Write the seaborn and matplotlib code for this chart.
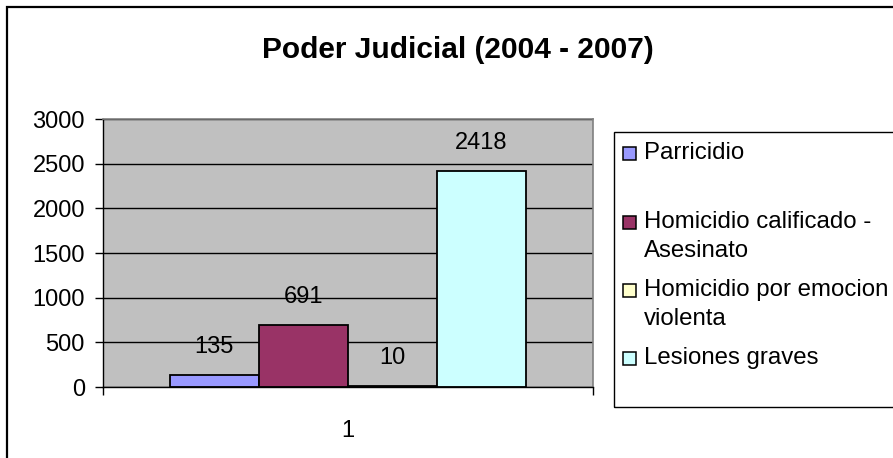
import matplotlib
matplotlib.use("Agg")
import matplotlib.pyplot as plt
import matplotlib.patches as mpatches
import numpy as np
import pandas as pd
import seaborn as sns

categories = ["Parricidio", "Homicidio calificado - Asesinato",
              "Homicidio por emocion violenta", "Lesiones graves"]
legend_lines = [["Parricidio"], ["Homicidio calificado -", "Asesinato"],
                ["Homicidio por emocion", "violenta"], ["Lesiones graves"]]
values = [135, 691, 10, 2418]
group = ["1", "1", "1", "1"]
colors = ["#9999FF", "#993366", "#FFFFCC", "#CCFFFF"]
yticks = [0, 500, 1000, 1500, 2000, 2500, 3000]

W, H = 893, 458


def fx(px):
    return px / W


def fy(py):
    return 1 - py / H


sns.set_style("white")
plt.rcParams["font.family"] = ["Liberation Sans", "DejaVu Sans"]
plt.rcParams["text.color"] = "black"
plt.rcParams["xtick.color"] = "black"
plt.rcParams["ytick.color"] = "black"

data = pd.DataFrame({"grupo": group, "delito": categories, "valor": values})

fig = plt.figure(figsize=(W / 100, H / 100), dpi=100)
ax = fig.add_axes([fx(103), fy(387), fx(593) - fx(103), fy(119) - fy(387)])
ax.set_facecolor("#C0C0C0")

sns.barplot(data=data, x="grupo", y="valor", hue="delito", hue_order=categories,
            palette=colors, width=0.727, edgecolor="black", linewidth=1.3,
            saturation=1, legend=False, ax=ax)

ax.set_xlim(-0.5, 0.5)
ax.set_ylim(0, 3000)
ax.set_yticks(yticks)
ax.yaxis.grid(True, color="black", linewidth=1)
ax.set_axisbelow(True)
ax.set_xlabel("")
ax.set_ylabel("")

for s in ["top", "right"]:
    ax.spines[s].set_color("#808080")
    ax.spines[s].set_linewidth(1.2)
for s in ["left", "bottom"]:
    ax.spines[s].set_color("black")
    ax.spines[s].set_linewidth(1)

ax.tick_params(axis="y", direction="out", length=6, width=1, color="black",
               labelsize=17, pad=7, left=True, labelcolor="black")
ax.tick_params(axis="x", which="major", length=0, labelsize=17, pad=24,
               labelcolor="black")
ax.set_xticks([-0.5, 0.5], minor=True)
ax.tick_params(axis="x", which="minor", direction="out", length=6, width=1,
               color="black", bottom=True)

for cont in ax.containers:
    for bar, v in zip(cont, cont.datavalues):
        ax.annotate(f"{int(v)}", (bar.get_x() + bar.get_width() / 2, bar.get_height()),
                    xytext=(0, 20), textcoords="offset points",
                    ha="center", va="center", fontsize=17, color="black")

fig.text(fx(458), fy(50), "Poder Judicial (2004 - 2007)", ha="center", va="center",
         fontsize=21.5, fontweight="bold", color="black")

# outer chart frame
fig.patches.append(mpatches.Rectangle((fx(7), -0.1), 1.2, fy(7) + 0.1, fill=False,
                                      edgecolor="black", linewidth=1.6,
                                      transform=fig.transFigure, figure=fig))

# legend box
fig.patches.append(mpatches.Rectangle((fx(614), fy(407)), 1.0, fy(132) - fy(407),
                                      fill=False, edgecolor="black", linewidth=1,
                                      transform=fig.transFigure, figure=fig))
entry_y = [153, 222, 290, 358]
for lines, c, y0 in zip(legend_lines, colors, entry_y):
    fig.patches.append(mpatches.Rectangle((fx(623), fy(y0 + 6.5)), fx(13), fy(0) - fy(13),
                                          facecolor=c, edgecolor="black", linewidth=1.1,
                                          transform=fig.transFigure, figure=fig))
    for i, line in enumerate(lines):
        fig.text(fx(644), fy(y0 + i * 29), line, ha="left", va="center",
                 fontsize=17.3, color="black")

fig.savefig("out.png", dpi=100)
